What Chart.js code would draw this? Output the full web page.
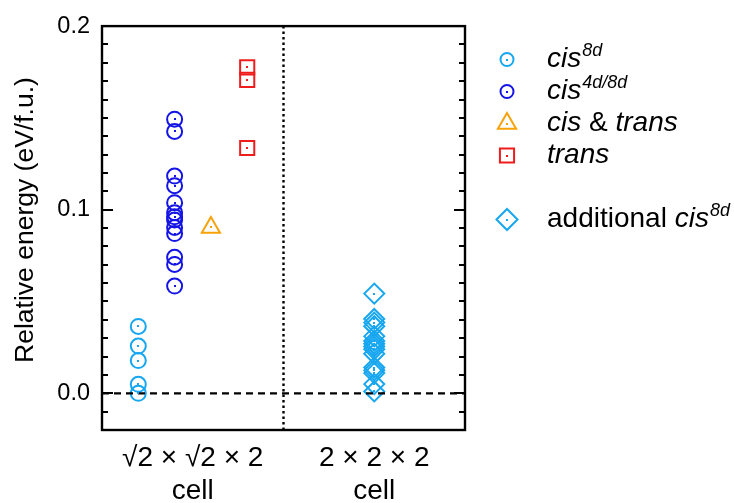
<!DOCTYPE html>
<html>
<head>
<meta charset="utf-8">
<script src="https://cdn.jsdelivr.net/npm/chart.js@4.4.0/dist/chart.umd.min.js"></script>
<style>
  html, body { margin: 0; padding: 0; background: #fff; }
  #wrap { width: 734px; height: 503px; }
</style>
</head>
<body>
<div id="wrap"><canvas id="energyChart" width="734" height="503"></canvas></div>
<script>
// relative energies (eV/f.u.) of each configuration
const cis8dEnergies = [0.0364, 0.0257, 0.0178, 0.0049, 0.0];
const cis4d8dEnergies = [0.1493, 0.1426, 0.1183, 0.1131, 0.1038, 0.0984, 0.0961, 0.0944, 0.0903, 0.0870, 0.0741, 0.0702, 0.0584];
const cisTransEnergies = [0.0903];
const transEnergies = [0.1775, 0.1707, 0.1336];
const additionalCis8dEnergies = [0.0543, 0.0405, 0.0385, 0.0365, 0.0310, 0.0285, 0.0270, 0.0255, 0.0240, 0.0215, 0.0140, 0.0125, 0.0110, 0.0050, 0.0010];

// column of each series on the x axis (0..1) and the split between the two cells
const seriesColumns = [0.1, 0.2, 0.3, 0.4, 0.75];
const cellBoundary = 0.5;
const cellTickValues = [0.25, 0.75];
const cellLabels = [['√2 × √2 × 2', 'cell'], ['2 × 2 × 2', 'cell']];
const energyTicks = [0, 0.1, 0.2];
const energyRange = [-0.02, 0.2];
const energyTitle = 'Relative energy (eV/f.u.)';

const FONT = "'Liberation Sans', Arial, Helvetica, sans-serif";
const lightBlue = '#17a6f0';
const blue = '#1414e6';
const orange = '#f7a208';
const red = '#f01c1c';

function column(values, x) {
    return values.map(v => ({ x: x, y: v }));
}

function markerSet(values, x, style, color, radius) {
    return {
        data: column(values, x),
        pointStyle: style,
        pointRadius: radius,
        borderColor: color,
        backgroundColor: 'rgba(0,0,0,0)',
        pointBorderWidth: 2,
        showLine: false,
        centerDot: color
    };
}

const legendEntries = [
    { style: 'circle', color: lightBlue, parts: [['cis', 'italic'], ['8d', 'sup']] },
    { style: 'circle', color: blue, parts: [['cis', 'italic'], ['4d/8d', 'sup']] },
    { style: 'triangle', color: orange, parts: [['cis', 'italic'], [' & ', 'normal'], ['trans', 'italic']] },
    { style: 'rect', color: red, parts: [['trans', 'italic']] },
    { style: 'rectRot', color: lightBlue, parts: [['additional ', 'normal'], ['cis', 'italic'], ['8d', 'sup']] }
];

// inward ticks every 0.01 on both sides, the box round the plot and the y title
const frameTicks = {
    id: 'frameTicks',
    afterDraw(chart) {
        const ctx = chart.ctx;
        const area = chart.chartArea;
        const y = chart.scales.y;
        ctx.save();
        ctx.strokeStyle = '#000';
        ctx.lineWidth = 2;
        for (let i = Math.round(energyRange[0] * 100); i <= Math.round(energyRange[1] * 100); i++) {
            const py = Math.round(y.getPixelForValue(i / 100));
            const len = (i % 10 === 0) ? 11 : 6;
            ctx.beginPath();
            ctx.moveTo(area.left, py);
            ctx.lineTo(area.left + len, py);
            ctx.moveTo(area.right, py);
            ctx.lineTo(area.right - len, py);
            ctx.stroke();
        }
        ctx.lineWidth = 2.4;
        ctx.strokeRect(area.left, area.top, area.right - area.left, area.bottom - area.top);

        ctx.translate(26, (area.top + area.bottom) / 2 - 8);
        ctx.rotate(-Math.PI / 2);
        ctx.fillStyle = '#000';
        ctx.font = '26.5px ' + FONT;
        ctx.textAlign = 'center';
        ctx.textBaseline = 'middle';
        ctx.fillText(energyTitle, 0, 0);
        ctx.restore();
    }
};

// small dot in the middle of every open marker
const centerDots = {
    id: 'centerDots',
    afterDatasetsDraw(chart) {
        const ctx = chart.ctx;
        ctx.save();
        chart.data.datasets.forEach((ds, i) => {
            if (!ds.centerDot) return;
            ctx.fillStyle = ds.centerDot;
            chart.getDatasetMeta(i).data.forEach(pt => {
                ctx.fillRect(Math.round(pt.x) - 1, Math.round(pt.y) - 1, 2, 2);
            });
        });
        ctx.restore();
    }
};

function drawMarker(ctx, style, x, y, r) {
    ctx.beginPath();
    if (style === 'circle') {
        ctx.arc(x, y, r, 0, Math.PI * 2);
    } else if (style === 'triangle') {
        ctx.moveTo(x, y - r);
        ctx.lineTo(x + r * Math.sin(Math.PI / 3), y + r / 2);
        ctx.lineTo(x - r * Math.sin(Math.PI / 3), y + r / 2);
        ctx.closePath();
    } else if (style === 'rect') {
        const s = r * Math.SQRT1_2;
        ctx.rect(x - s, y - s, 2 * s, 2 * s);
    } else if (style === 'rectRot') {
        ctx.moveTo(x - r, y);
        ctx.lineTo(x, y - r);
        ctx.lineTo(x + r, y);
        ctx.lineTo(x, y + r);
        ctx.closePath();
    }
    ctx.stroke();
    ctx.fillRect(Math.round(x) - 1, Math.round(y) - 1, 2, 2);
}

// legend with italic names and superscripts
const richLegend = {
    id: 'richLegend',
    afterDraw(chart) {
        const ctx = chart.ctx;
        const markerX = 507;
        const textX = 547;
        const baselines = [67, 99, 131, 163, 227];
        const radii = { circle: 6.5, triangle: 10.5, rect: 10, rectRot: 10.5 };
        ctx.save();
        legendEntries.forEach((entry, i) => {
            const base = baselines[i];
            ctx.strokeStyle = entry.color;
            ctx.fillStyle = entry.color;
            ctx.lineWidth = 2;
            drawMarker(ctx, entry.style, markerX, base - 7.5, radii[entry.style]);
            ctx.fillStyle = '#000';
            ctx.textBaseline = 'alphabetic';
            ctx.textAlign = 'left';
            let x = textX;
            entry.parts.forEach(([text, kind]) => {
                if (kind === 'sup') {
                    ctx.font = 'italic 18px ' + FONT;
                    ctx.fillText(text, x + 1, base - 11);
                    x += ctx.measureText(text).width + 1;
                } else {
                    ctx.font = (kind === 'italic' ? 'italic ' : '') + '28px ' + FONT;
                    ctx.fillText(text, x, base);
                    x += ctx.measureText(text).width;
                }
            });
        });
        ctx.restore();
    }
};

const datasets = [
    {
        data: [{ x: 0, y: 0 }, { x: 1, y: 0 }],
        showLine: true,
        borderColor: '#000',
        borderWidth: 2.2,
        borderDash: [7, 5],
        pointRadius: 0
    },
    {
        data: [{ x: cellBoundary, y: energyRange[0] }, { x: cellBoundary, y: energyRange[1] }],
        showLine: true,
        borderColor: '#000',
        borderWidth: 2.4,
        borderDash: [2.5, 3],
        pointRadius: 0
    },
    markerSet(cis8dEnergies, seriesColumns[0], 'circle', lightBlue, 7.5),
    markerSet(cis4d8dEnergies, seriesColumns[1], 'circle', blue, 7.5),
    markerSet(cisTransEnergies, seriesColumns[2], 'triangle', orange, 10.5),
    markerSet(transEnergies, seriesColumns[3], 'rect', red, 10),
    markerSet(additionalCis8dEnergies, seriesColumns[4], 'rectRot', lightBlue, 10)
];

const ctx = document.getElementById('energyChart');
new Chart(ctx.getContext('2d'), {
    type: 'scatter',
    data: { datasets: datasets },
    options: {
        responsive: false,
        animation: false,
        events: [],
        layout: { padding: { top: 23, right: 269, left: 0, bottom: 0 } },
        plugins: {
            legend: { display: false },
            tooltip: { enabled: false }
        },
        scales: {
            x: {
                type: 'linear',
                min: 0,
                max: 1,
                grid: { display: false, drawTicks: false },
                border: { display: false },
                afterBuildTicks: scale => { scale.ticks = cellTickValues.map(v => ({ value: v })); },
                afterFit: scale => { scale.height = 73; },
                ticks: {
                    color: '#000',
                    font: { family: FONT, size: 28, lineHeight: 1.2 },
                    padding: 11,
                    maxRotation: 0,
                    autoSkip: false,
                    callback: (value, index) => cellLabels[index]
                }
            },
            y: {
                min: energyRange[0],
                max: energyRange[1],
                grid: { display: false, drawTicks: false },
                border: { display: false },
                afterBuildTicks: scale => { scale.ticks = energyTicks.map(v => ({ value: v })); },
                afterFit: scale => { scale.width = 102; },
                ticks: {
                    color: '#000',
                    font: { family: FONT, size: 23.5 },
                    padding: 12,
                    callback: value => Number(value).toFixed(1)
                }
            }
        }
    },
    plugins: [frameTicks, centerDots, richLegend]
});
</script>
</body>
</html>
